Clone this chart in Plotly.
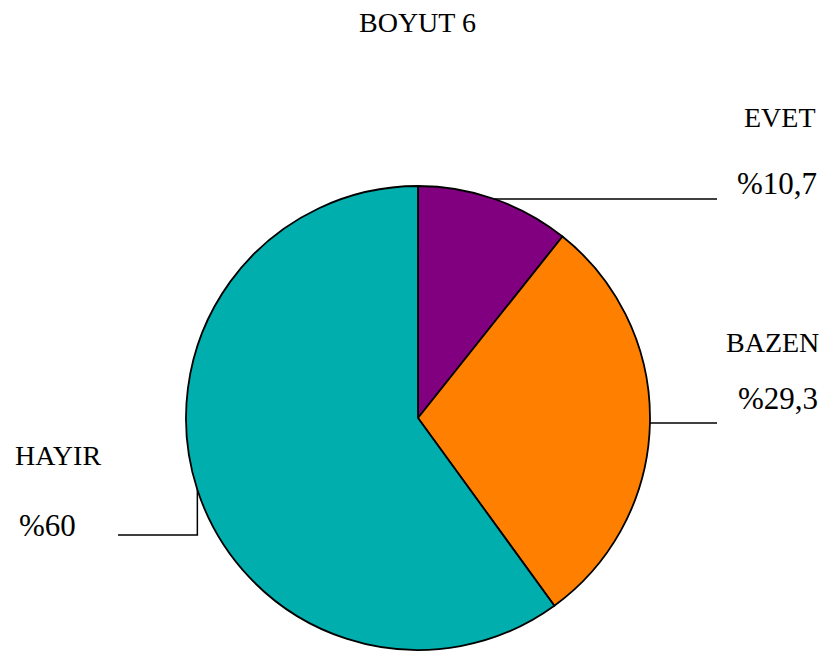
import math
import plotly.graph_objects as go

# Survey answers for dimension 6
labels = ["EVET", "BAZEN", "HAYIR"]
values = [10.7, 29.3, 60.0]
pct_text = ["%10,7", "%29,3", "%60"]
colors = ["#800080", "#FF8000", "#00AEAE"]

W, H = 827, 656
cx, cy, r = 418, 418, 232  # pie centre and radius in pixels

fig = go.Figure(go.Pie(
    labels=labels, values=values, sort=False, direction="clockwise",
    rotation=0, textinfo="none", hoverinfo="label+percent",
    marker=dict(colors=colors, line=dict(color="black", width=1.8)),
    domain=dict(x=[(cx - r) / W, (cx + r) / W], y=[1 - (cy + r) / H, 1 - (cy - r) / H]),
    showlegend=False,
))


def px(x, y):
    return x / W, 1 - y / H


# leader-line anchor on the rim at each slice's mid-angle
total = sum(values)
anchors = []
acc = 0
for v in values:
    mid = (acc + v / 2) / total * 2 * math.pi
    anchors.append((cx + r * math.sin(mid), cy - r * math.cos(mid)))
    acc += v

line = dict(color="black", width=1.5)
shapes = []
# EVET: horizontal to the right
ax, ay = anchors[0]
x0, y0 = px(ax, ay); x1, _ = px(717, ay)
shapes.append(dict(type="line", xref="paper", yref="paper", x0=x0, y0=y0, x1=x1, y1=y0, line=line))
# BAZEN: horizontal to the right
ax, ay = anchors[1]
x0, y0 = px(ax, ay); x1, _ = px(717, ay)
shapes.append(dict(type="line", xref="paper", yref="paper", x0=x0, y0=y0, x1=x1, y1=y0, line=line))
# HAYIR: down, then left
ax, ay = anchors[2]
x0, y0 = px(ax, ay); _, y1 = px(ax, 535); x2, _ = px(118, 535)
shapes.append(dict(type="path", xref="paper", yref="paper",
                   path=f"M {x0} {y0} L {x0} {y1} L {x2} {y1}", line=line))

font_name = "Liberation Serif, Times New Roman, serif"
label_pos = [(780, 117), (772, 342), (58, 455)]
pct_pos = [(777, 183), (778, 398), (47, 525)]
annotations = []
for lab, (x, y) in zip(labels, label_pos):
    xx, yy = px(x, y)
    annotations.append(dict(text=lab, x=xx, y=yy, xref="paper", yref="paper", showarrow=False,
                            xanchor="center", yanchor="middle", font=dict(family=font_name, size=28, color="black")))
for t, (x, y) in zip(pct_text, pct_pos):
    xx, yy = px(x, y)
    annotations.append(dict(text=t, x=xx, y=yy, xref="paper", yref="paper", showarrow=False,
                            xanchor="center", yanchor="middle", font=dict(family=font_name, size=31, color="black")))
xx, yy = px(417, 22)
annotations.append(dict(text="BOYUT 6", x=xx, y=yy, xref="paper", yref="paper", showarrow=False,
                        xanchor="center", yanchor="middle", font=dict(family=font_name, size=28, color="black")))

fig.update_layout(width=W, height=H, margin=dict(l=0, r=0, t=0, b=0),
                  paper_bgcolor="white", plot_bgcolor="white",
                  shapes=shapes, annotations=annotations)
fig.write_html("out.html")
